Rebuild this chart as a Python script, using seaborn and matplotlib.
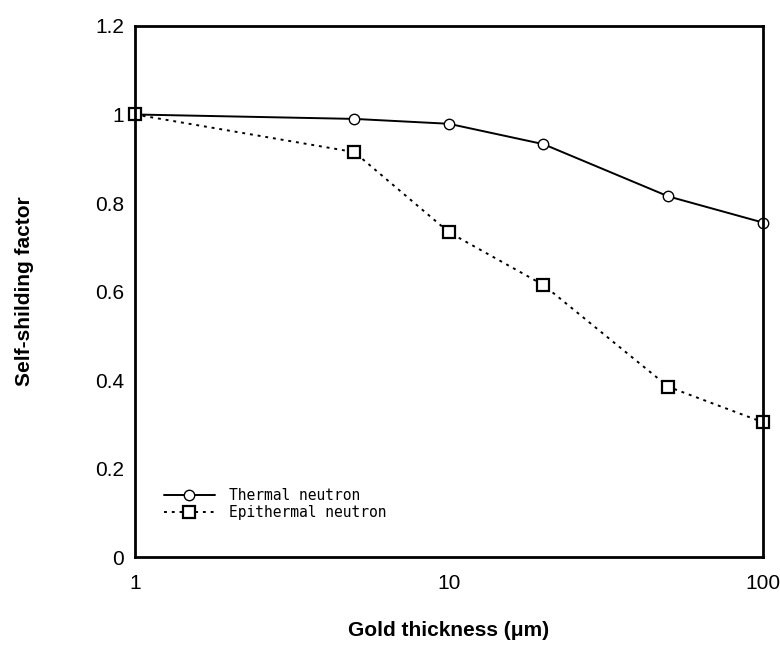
import pandas as pd
import seaborn as sns
import matplotlib.pyplot as plt
from matplotlib.ticker import LogLocator, NullFormatter, FixedLocator

# values
thickness = [1, 5, 10, 20, 50, 100]
thermal = [1.0, 0.990, 0.979, 0.933, 0.815, 0.756]
epithermal = [1.0, 0.915, 0.734, 0.615, 0.385, 0.305]

df = pd.DataFrame({'thickness': thickness, 'Thermal neutron': thermal,
                   'Epithermal neutron': epithermal})

sns.set_style('white')
plt.rcParams['font.family'] = ['Liberation Sans', 'DejaVu Sans']
plt.rcParams['text.color'] = 'black'
plt.rcParams['axes.labelcolor'] = 'black'

fig = plt.figure(figsize=(7.8, 6.48), dpi=100)
ax = fig.add_axes([0.173, 0.140, 0.805, 0.820])

sns.lineplot(data=df, x='thickness', y='Thermal neutron', ax=ax, color='black',
             lw=1.4, marker='o', markersize=7.5, markerfacecolor='white',
             markeredgecolor='black', markeredgewidth=1.0, clip_on=False,
             label='Thermal neutron')
sns.lineplot(data=df, x='thickness', y='Epithermal neutron', ax=ax, color='black',
             lw=1.4, linestyle=(0, (1.5, 2.5)), marker='s', markersize=8,
             markerfacecolor='white', markeredgecolor='black',
             markeredgewidth=1.6, clip_on=False, label='Epithermal neutron')

ax.set_xscale('log')
ax.set_xlim(1, 100)
ax.set_ylim(0, 1.2)
ax.set_xticks([1, 10, 100])
ax.set_xticklabels(['1', '10', '100'])
ax.xaxis.set_minor_locator(LogLocator(base=10, subs=range(2, 10)))
ax.xaxis.set_minor_formatter(NullFormatter())
ax.yaxis.set_major_locator(FixedLocator([0, 0.2, 0.4, 0.6, 0.8, 1.0, 1.2]))
ax.set_yticklabels(['0', '0.2', '0.4', '0.6', '0.8', '1', '1.2'])

ax.tick_params(axis='both', which='major', direction='in', length=8, width=2,
               labelsize=15, colors='black', pad=8)
ax.tick_params(axis='x', which='minor', direction='in', length=5, width=1.5)
ax.tick_params(top=False, right=False, which='both')
ax.tick_params(axis='x', which='major', pad=12)
for s in ax.spines.values():
    s.set_color('black')
    s.set_linewidth(2)

ax.set_xlabel('Gold thickness (\u03bcm)', fontsize=15, fontweight='bold', labelpad=20)
ax.set_ylabel('Self-shilding factor', fontsize=15, fontweight='bold', labelpad=44)

ax.legend(loc='lower left', bbox_to_anchor=(0.025, 0.045), frameon=False,
          handlelength=3.5, handletextpad=1.0, labelspacing=0.15,
          prop={'family': 'DejaVu Sans Mono', 'size': 10.5})

fig.savefig('out.png', dpi=100)
